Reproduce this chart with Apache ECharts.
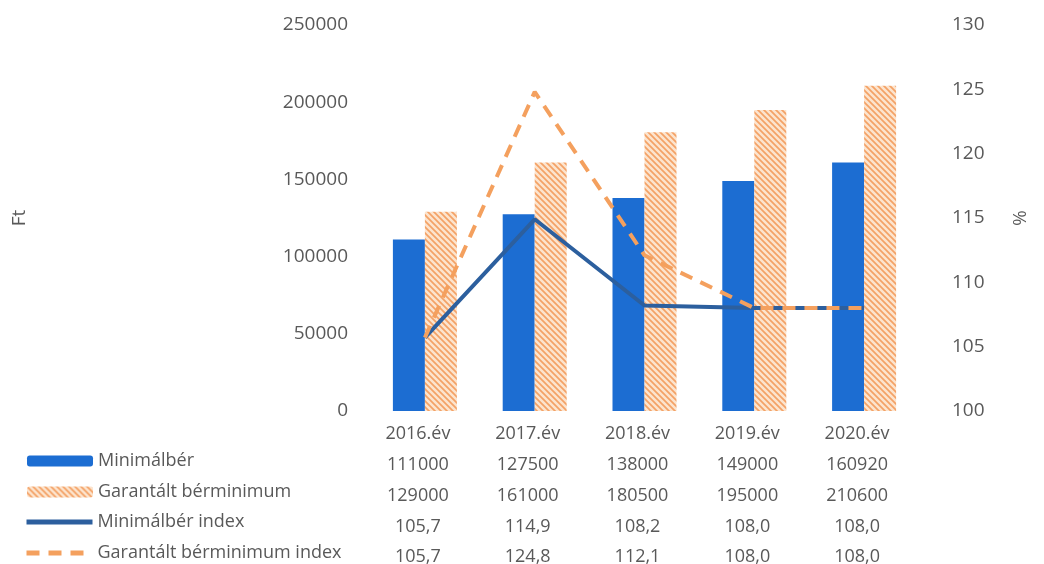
<!DOCTYPE html>
<html>
<head>
<meta charset="utf-8">
<script src="https://cdn.jsdelivr.net/npm/echarts@6/dist/echarts.min.js"></script>
<style>
html,body{margin:0;padding:0;background:#fff;}
#chart{width:1044px;height:564px;}
</style>
</head>
<body>
<div id="chart"></div>
<script>
const categories = ['2016.év', '2017.év', '2018.év', '2019.év', '2020.év'];
const minimalber = [111000, 127500, 138000, 149000, 160920];
const garantalt = [129000, 161000, 180500, 195000, 210600];
const minimalberIndex = [105.7, 114.9, 108.2, 108.0, 108.0];
const garantaltIndex = [105.7, 124.8, 112.1, 108.0, 108.0];
const seriesNames = ['Minimálbér', 'Garantált bérminimum', 'Minimálbér index', 'Garantált bérminimum index'];
const leftTicks = {min: 0, max: 250000, interval: 50000};
const rightTicks = {min: 100, max: 130, interval: 5};

function hatch() {
  const s = 6;
  const c = document.createElement('canvas');
  c.width = s; c.height = s;
  const g = c.getContext('2d');
  g.fillStyle = '#FCE4CE';
  g.fillRect(0, 0, s, s);
  g.strokeStyle = '#F4A266';
  g.lineWidth = 1.7;
  g.beginPath();
  g.moveTo(-1, -1); g.lineTo(s + 1, s + 1);
  g.moveTo(-1, s - 1); g.lineTo(1, s + 1);
  g.moveTo(s - 1, -1); g.lineTo(s + 1, 1);
  g.stroke();
  return c;
}
const fmtIdx = v => v.toFixed(1).replace('.', ',');
const textColor = '#595959';
const font = 'Open Sans';
const rowTops = [447, 478, 508, 539];
const rowLefts = [22, 22, 19, 19];

const legends = seriesNames.map((n, i) => ({
  orient: 'vertical', left: rowLefts[i], top: rowTops[i],
  itemWidth: 66, itemHeight: 11, itemGap: 0,
  textStyle: {color: textColor, fontSize: 18, fontFamily: font},
  lineStyle: {width: 5},
  data: [i >= 2 ? {name: n, itemStyle: {color: 'rgba(0,0,0,0)', borderColor: 'rgba(0,0,0,0)', borderWidth: 0}} : {name: n}]
}));

const chart = echarts.init(document.getElementById('chart'));
chart.setOption({
  animation: false,
  textStyle: {fontFamily: font},
  grid: {left: 370, right: 125, top: 25, bottom: 153, containLabel: false, outerBoundsMode: 'none'},
  legend: legends,
  xAxis: {
    type: 'category', data: categories,
    axisLine: {show: false}, axisTick: {show: false},
    axisLabel: {
      margin: 8, color: textColor, fontSize: 18, lineHeight: 30.7, fontFamily: font,
      padding: [0, 14, 0, 0],
      formatter: (v, i) => [v, minimalber[i], garantalt[i], fmtIdx(minimalberIndex[i]), fmtIdx(garantaltIndex[i])].join('\n')
    }
  },
  yAxis: [{
    type: 'value', ...leftTicks,
    name: 'Ft', nameLocation: 'middle', nameGap: 341,
    nameTextStyle: {color: textColor, fontSize: 19, fontFamily: font},
    axisLine: {show: false}, axisTick: {show: false}, splitLine: {show: false},
    axisLabel: {color: textColor, fontSize: 19, margin: 22, fontFamily: font, formatter: v => String(v)}
  }, {
    type: 'value', ...rightTicks,
    name: '%', nameLocation: 'middle', nameGap: 90, nameRotate: -90,
    nameTextStyle: {color: textColor, fontSize: 19, fontFamily: font},
    axisLine: {show: false}, axisTick: {show: false}, splitLine: {show: false},
    axisLabel: {color: textColor, fontSize: 19, margin: 33, fontFamily: font}
  }],
  series: [{
    name: seriesNames[0], type: 'bar', data: minimalber, barWidth: 32, barGap: '0%',
    itemStyle: {color: '#1C6DD2'}
  }, {
    name: seriesNames[1], type: 'bar', data: garantalt, barWidth: 32, barGap: '0%',
    itemStyle: {color: {image: hatch(), repetition: 'repeat'}}
  }, {
    name: seriesNames[2], type: 'line', yAxisIndex: 1, data: minimalberIndex,
    symbol: 'none', lineStyle: {color: '#2C5F9E', width: 4}, itemStyle: {color: '#2C5F9E'}
  }, {
    name: seriesNames[3], type: 'line', yAxisIndex: 1, data: garantaltIndex,
    symbol: 'none', lineStyle: {color: '#F4A05E', width: 4, type: [13, 9]}, itemStyle: {color: '#F4A05E'}
  }]
});
</script>
</body>
</html>
